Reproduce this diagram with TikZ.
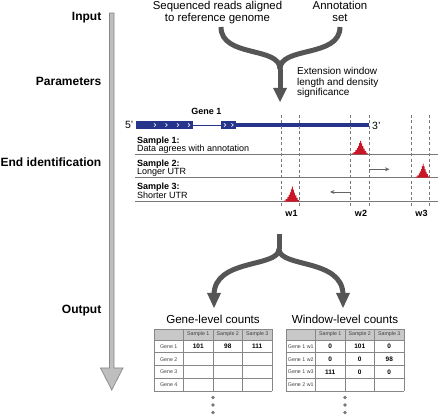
\documentclass[tikz,border=0pt]{standalone}
\usepackage{fontspec}
\setmainfont{Liberation Sans}
\usetikzlibrary{arrows.meta}
\definecolor{forkgray}{RGB}{85,85,85}
\definecolor{genebl}{RGB}{38,52,140}
\definecolor{peakred}{RGB}{200,22,40}
\definecolor{bargray}{RGB}{190,190,190}
\definecolor{baredge}{RGB}{135,135,135}
\definecolor{linegray}{RGB}{120,120,120}
\definecolor{hdrgray}{RGB}{200,200,200}
\definecolor{tblgray}{RGB}{135,135,135}
\definecolor{dotgray}{RGB}{120,120,120}
\definecolor{arrgray}{RGB}{100,100,100}
\newcommand\mypeak[4]{%
  \begin{scope}[shift={(#1,#3)},xscale=#2,yscale=#4]
    \fill[peakred] (0,0) -- (0.05,0) -- (0.05,-0.07) -- (0.15,-0.07) -- (0.15,-0.17) -- (0.25,-0.17) -- (0.25,-0.3) -- (0.33,-0.3) -- (0.33,-0.45) -- (0.4,-0.45) -- (0.4,-0.62) -- (0.46,-0.62) -- (0.46,-0.82) -- (0.52,-0.82) -- (0.52,-1) -- (0.58,-1) -- (0.58,-0.8) -- (0.64,-0.8) -- (0.64,-0.6) -- (0.7,-0.6) -- (0.7,-0.42) -- (0.78,-0.42) -- (0.78,-0.25) -- (0.86,-0.25) -- (0.86,-0.1) -- (0.95,-0.1) -- (0.95,0) -- (1,0) -- cycle;
  \end{scope}}
\tikzset{
  stage/.style={font=\fontsize{12}{14}\selectfont\bfseries, anchor=base east, inner sep=0},
  toptxt/.style={font=\fontsize{11.4}{11.5}\selectfont, anchor=base, inner sep=0, align=center},
  partxt/.style={font=\fontsize{10}{10.2}\selectfont, anchor=base west, inner sep=0, align=left},
  smb/.style={font=\fontsize{9}{10}\selectfont\bfseries, anchor=base west, inner sep=0},
  smr/.style={font=\fontsize{9}{10}\selectfont, anchor=base west, inner sep=0},
  wlab/.style={font=\fontsize{9}{10}\selectfont\bfseries, anchor=base, inner sep=0},
  prime/.style={font=\fontsize{10.5}{11}\selectfont, inner sep=0},
  forkline/.style={draw=forkgray, line width=5pt},
  sline/.style={draw=linegray, line width=0.9pt},
  dline/.style={draw=linegray, line width=0.8pt, dash pattern=on 3pt off 2.5pt},
  smarrow/.style={draw=arrgray, line width=0.8pt, -{Stealth[length=4.5pt,width=4pt]}},
  tttl/.style={font=\fontsize{11.6}{12}\selectfont, anchor=base, inner sep=0},
  thdr/.style={font=\fontsize{5.3}{6}\selectfont, text=black!75, inner sep=0},
  tnum/.style={font=\fontsize{6.5}{7}\selectfont\bfseries, inner sep=0},
  tgrid/.style={draw=tblgray, line width=0.8pt},
}
\begin{document}
\begin{tikzpicture}[x=1pt,y=-1pt]
\useasboundingbox (0,0) rectangle (440,417);

% timeline arrow
\filldraw[fill=bargray, draw=baredge, line width=0.7pt] (109.5,13) -- (114,13) -- (114,368) -- (123,368) -- (111.75,390) -- (100.5,368) -- (109.5,368) -- cycle;
\node[stage] (input) at (101.5,20.5) {Input};
\node[stage] (params) at (101.5,85.5) {Parameters};
\node[stage] (endid) at (101.5,167) {End identification};
\node[stage] (output) at (101.5,314) {Output};

% inputs (base anchor = last line baseline)
\node[toptxt] (reads) at (217.5,21.5) {Sequenced reads aligned\\to reference genome};
\node[toptxt] (annot) at (340,21.5) {Annotation\\set};

% top fork
\coordinate (f1a) at (221,27);
\coordinate (f1b) at (340,27);
\coordinate (f1m) at (280,69);
\coordinate (f1s) at (280,90);
\coordinate (f1t) at (280,102);
\draw[forkline] (f1a) .. controls (221,58) and (280,46) .. (f1m);
\draw[forkline] (f1b) .. controls (340,58) and (280,46) .. (f1m);
\draw[forkline] (f1m) -- (f1s);
\fill[forkgray] (273,88) -- (287,88) -- (f1t) -- cycle;
\node[partxt] (ext) at (297,95.4) {Extension window\\length and density\\significance};

% gene model
\node[font=\fontsize{9}{10}\selectfont\bfseries, anchor=base, inner sep=0] (gene) at (206.5,115) {Gene 1};
\node[prime, anchor=base east] (p5) at (133.5,129) {5'};
\node[prime, anchor=base west] (p3) at (372,129.5) {3'};
\fill[genebl] (136,121) rectangle (193,129);
\draw[genebl, line width=0.9pt] (193,125) -- (221,125);
\fill[genebl] (221,121) rectangle (236,129);
\fill[genebl] (235.5,122.7) rectangle (369,127.3);
\foreach \cx in {155,166.5,178,189,225,232.5}
  \draw[white, line width=0.6pt] (\cx-1,123.4) -- (\cx+0.8,125) -- (\cx-1,126.6);

% dashed windows
\foreach \dx in {281.7,299.3,350.7,369,411.7,429.3}
  \draw[dline] (\dx,115) -- (\dx,208);

% sample lines
\draw[sline] (135,154.3) -- (438,154.3);
\draw[sline] (135,177.7) -- (438,177.7);
\draw[sline] (135,201.7) -- (438,201.7);

\node[smb] (s1) at (137,143.3) {Sample 1:};
\node[smr] (s1d) at (137,151.7) {Data agrees with annotation};
\node[smb] (s2) at (137,166.7) {Sample 2:};
\node[smr] (s2d) at (137,175) {Longer UTR};
\node[smb] (s3) at (137,190) {Sample 3:};
\node[smr] (s3d) at (137,198.7) {Shorter UTR};

% peaks
\mypeak{351}{17.5}{154.3}{13.5}
\mypeak{415}{15}{177.7}{14}
\mypeak{283}{17}{201.7}{15}

% shift arrows
\coordinate (a2s) at (369,169.3);
\coordinate (a2e) at (389.5,169.3);
\draw[smarrow] (a2s) -- (a2e);
\coordinate (a3s) at (350.7,192);
\coordinate (a3e) at (330,192);
\draw[smarrow] (a3s) -- (a3e);

\node[wlab] (w1) at (291.5,216.7) {w1};
\node[wlab] (w2) at (361,216.7) {w2};
\node[wlab] (w3) at (421.5,216.7) {w3};

% bottom fork
\coordinate (f2s) at (279,234);
\coordinate (f2m) at (279,249);
\coordinate (f2l) at (214,295);
\coordinate (f2r) at (343,295);
\draw[forkline] (f2s) -- (f2m);
\draw[forkline] (f2m) .. controls (279,268) and (214,258) .. (f2l);
\draw[forkline] (f2m) .. controls (279,268) and (343,258) .. (f2r);
\fill[forkgray] (207,293) -- (221,293) -- (214,308) -- cycle;
\fill[forkgray] (336,293) -- (350,293) -- (343,308) -- cycle;

\node[tttl] (gtitle) at (213,323.3) {Gene-level counts};
\node[tttl] (wtitle) at (345,323.3) {Window-level counts};

% table 1
\fill[hdrgray] (154,329) rectangle (272,340);
\foreach \gx in {154,183.5,213,242.5,272}
  \draw[tgrid] (\gx,329) -- (\gx,391.2);
\foreach \gy in {329,340,352.8,365.6,378.4,391.2}
  \draw[tgrid] (154,\gy) -- (272,\gy);
\foreach \i/\cx in {1/198.25,2/227.75,3/257.25}
  \node[thdr] (ah\i) at (\cx,334.6) {Sample \i};
\foreach \i/\cy in {1/346.4,2/359.2,3/372,4/384.8}
  \node[thdr] (ar\i) at (168.75,\cy) {Gene \i};
\node[tnum] (a11) at (198.25,346.4) {101};
\node[tnum] (a12) at (227.75,346.4) {98};
\node[tnum] (a13) at (257.25,346.4) {111};

% table 2
\fill[hdrgray] (286,329) rectangle (404,340);
\foreach \gx in {286,315.5,345,374.5,404}
  \draw[tgrid] (\gx,329) -- (\gx,391.2);
\foreach \gy in {329,340,352.8,365.6,378.4,391.2}
  \draw[tgrid] (286,\gy) -- (404,\gy);
\foreach \i/\cx in {1/330.25,2/359.75,3/389.25}
  \node[thdr] (bh\i) at (\cx,334.6) {Sample \i};
\node[thdr] (br1) at (300.75,346.4) {Gene 1 w1};
\node[thdr] (br2) at (300.75,359.2) {Gene 1 w2};
\node[thdr] (br3) at (300.75,372) {Gene 1 w3};
\node[thdr] (br4) at (300.75,384.8) {Gene 2 w1};
\node[tnum] (b11) at (330.25,346.4) {0};
\node[tnum] (b12) at (359.75,346.4) {101};
\node[tnum] (b13) at (389.25,346.4) {0};
\node[tnum] (b21) at (330.25,359.2) {0};
\node[tnum] (b22) at (359.75,359.2) {0};
\node[tnum] (b23) at (389.25,359.2) {98};
\node[tnum] (b31) at (330.25,372) {111};
\node[tnum] (b32) at (359.75,372) {0};
\node[tnum] (b33) at (389.25,372) {0};

% continuation dots
\foreach \dy in {397.5,405,412.5} {
  \fill[dotgray] (213,\dy) circle[radius=1.8pt];
  \fill[dotgray] (345,\dy) circle[radius=1.8pt];
}
\end{tikzpicture}
\end{document}
